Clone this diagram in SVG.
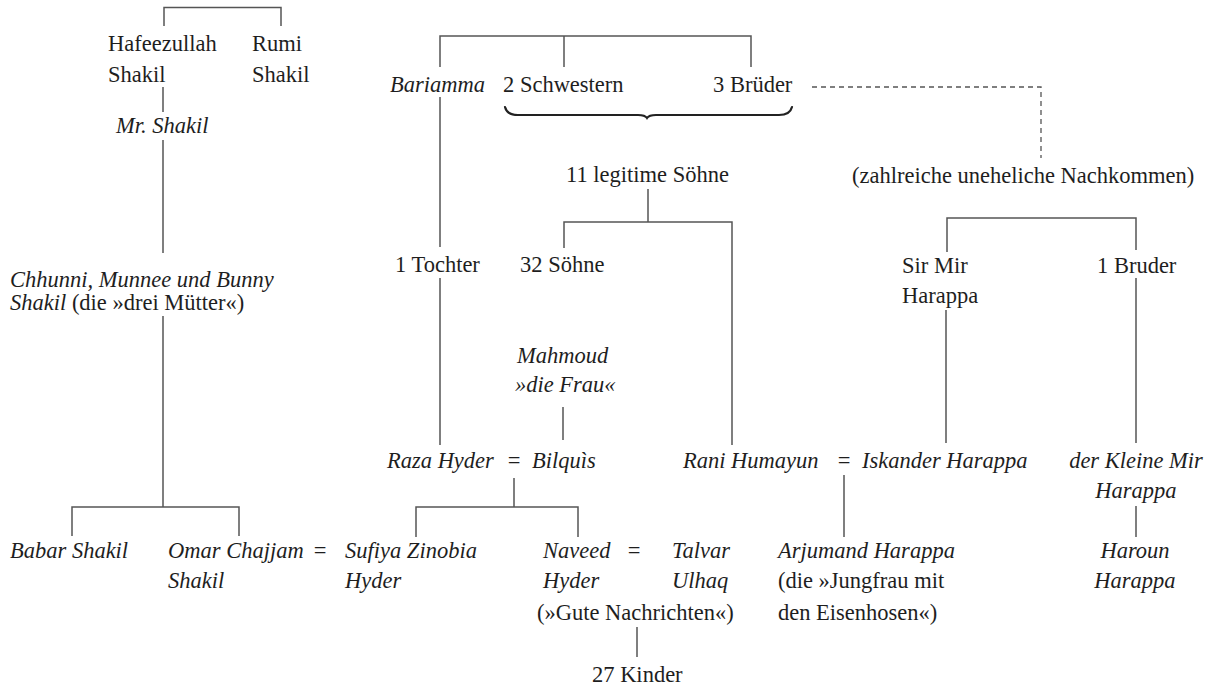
<svg xmlns="http://www.w3.org/2000/svg" width="1215" height="698" viewBox="0 0 1215 698">
<style>
text{font-family:'Liberation Serif','DejaVu Serif','Noto Serif',serif;font-size:22.5px;fill:#1e1e1e}
.i{font-style:italic}
.m{text-anchor:middle}
.e{text-anchor:end}
.ln{stroke:#555;stroke-width:1.5;fill:none}
.ds{stroke:#555;stroke-width:1.3;fill:none;stroke-dasharray:5 4}
.br{stroke:#222;stroke-width:2.2;fill:none;stroke-linecap:round}
</style>
<rect width="1215" height="698" fill="#fff"/>
<g id="connectors">
<path class="ln" d="M164 26V7.5H281V26"/>
<path class="ln" d="M163 87V112M163 140V253M163 316V507M72 536V507H239V536"/>
<path class="ln" d="M440 67V36H751V67M564 36V67"/>
<path class="ln" d="M440 97V247M440 278V445"/>
<path class="br" d="M505 107Q507 115 518 115H638Q645 115 647 118Q649 115 656 115H779Q790 115 792 107"/>
<path class="ds" d="M812 87H1041V158"/>
<path class="ln" d="M648 189V222M564 248V222H732V445"/>
<path class="ln" d="M947 252V218H1136V250M1136 278V443M946 310V443"/>
<path class="ln" d="M563 407V440"/>
<path class="ln" d="M514 478V507M416 537V507H578V537"/>
<path class="ln" d="M844 475V537"/>
<path class="ln" d="M1136 506V537"/>
<path class="ln" d="M637 627V657"/>
</g>
<g id="hafeezullah"><text x="108" y="51">Hafeezullah</text><text x="108" y="82">Shakil</text></g>
<g id="rumi"><text x="252" y="51">Rumi</text><text x="252" y="82">Shakil</text></g>
<g id="mr-shakil"><text class="i" x="116" y="133">Mr. Shakil</text></g>
<g id="drei-muetter"><text x="10" y="287"><tspan class="i">Chhunni, Munnee und Bunny</tspan></text><text x="10" y="310"><tspan class="i">Shakil</tspan> (die »drei Mütter«)</text></g>
<g id="bariamma"><text class="i e" x="485" y="92">Bariamma</text></g>
<g id="schwestern"><text x="503" y="92">2 Schwestern</text></g>
<g id="brueder"><text x="713" y="92">3 Brüder</text></g>
<g id="nachkommen"><text x="852" y="183">(zahlreiche uneheliche Nachkommen)</text></g>
<g id="legitime-soehne"><text x="566" y="182">11 legitime Söhne</text></g>
<g id="tochter"><text x="395" y="272">1 Tochter</text></g>
<g id="soehne"><text x="520" y="272">32 Söhne</text></g>
<g id="sir-mir"><text x="902" y="273">Sir Mir</text><text x="902" y="303">Harappa</text></g>
<g id="bruder"><text x="1097" y="273">1 Bruder</text></g>
<g id="mahmoud"><text class="i" x="517" y="363">Mahmoud</text><text class="i" x="515" y="392">»die Frau«</text></g>
<g id="raza"><text class="i" x="387" y="468">Raza Hyder</text><text class="m" x="514" y="468">=</text><text class="i" x="532" y="468">Bilquìs</text></g>
<g id="rani"><text class="i" x="683" y="468">Rani Humayun</text><text class="m" x="844" y="468">=</text><text class="i" x="862" y="468">Iskander Harappa</text></g>
<g id="kleine-mir"><text class="i m" x="1136" y="468">der Kleine Mir</text><text class="i m" x="1136" y="498">Harappa</text></g>
<g id="babar"><text class="i" x="10" y="558">Babar Shakil</text></g>
<g id="omar"><text class="i" x="168" y="558">Omar Chajjam</text><text class="i" x="168" y="588">Shakil</text><text class="m" x="320" y="558">=</text></g>
<g id="sufiya"><text class="i" x="345" y="558">Sufiya Zinobia</text><text class="i" x="345" y="588">Hyder</text></g>
<g id="naveed"><text class="i" x="543" y="558">Naveed</text><text class="i" x="543" y="588">Hyder</text><text class="m" x="634" y="558">=</text><text class="i" x="672" y="558">Talvar</text><text class="i" x="672" y="588">Ulhaq</text><text x="537" y="620">(»Gute Nachrichten«)</text></g>
<g id="kinder"><text x="592" y="682">27 Kinder</text></g>
<g id="arjumand"><text class="i" x="778" y="558">Arjumand Harappa</text><text x="778" y="588">(die »Jungfrau mit</text><text x="778" y="620">den Eisenhosen«)</text></g>
<g id="haroun"><text class="i m" x="1135" y="558">Haroun</text><text class="i m" x="1135" y="588">Harappa</text></g>
</svg>
